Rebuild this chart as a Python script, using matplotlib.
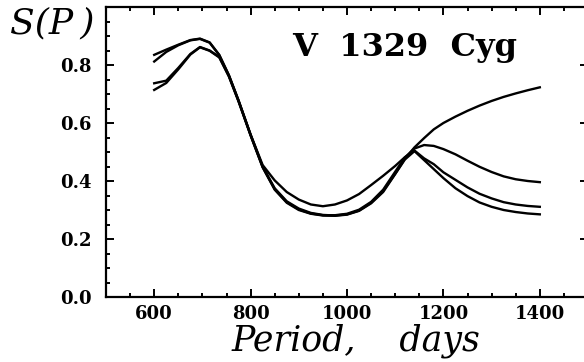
import numpy as np
import matplotlib
matplotlib.use("Agg")
import matplotlib.pyplot as plt
from matplotlib.ticker import MultipleLocator

period = [600, 625, 650, 675, 695, 715, 735, 755, 775, 800, 825, 850, 875, 900,
          925, 950, 975, 1000, 1025, 1050, 1075, 1100, 1120, 1140, 1160, 1180,
          1200, 1225, 1250, 1275, 1300, 1325, 1350, 1375, 1400]

# four S(P) curves
s_rise = [.835, .853, .870, .886, .891, .878, .835, .765, .678, .560, .450, .375,
          .330, .305, .290, .283, .281, .285, .298, .325, .365, .425, .476, .516,
          .548, .578, .600, .622, .642, .660, .676, .690, .702, .713, .723]
s_mid = [.812, .845, .868, .885, .890, .877, .834, .764, .677, .558, .448, .372,
         .327, .302, .288, .282, .282, .287, .301, .328, .370, .432, .481, .512,
         .524, .521, .510, .492, .470, .449, .431, .416, .406, .400, .396]
s_shallow = [.737, .746, .790, .838, .862, .850, .828, .762, .676, .560, .455, .402,
             .362, .336, .319, .313, .319, .333, .355, .386, .418, .452, .482, .505,
             .478, .458, .430, .404, .378, .356, .340, .327, .319, .314, .311]
s_low = [.714, .738, .785, .836, .861, .849, .826, .760, .674, .557, .447, .370,
         .325, .300, .287, .281, .280, .284, .297, .323, .362, .424, .474, .503,
         .472, .441, .410, .375, .348, .326, .311, .300, .293, .288, .285]

xticks = [600, 800, 1000, 1200, 1400]
yticks = [0.0, 0.2, 0.4, 0.6, 0.8]

fig = plt.figure(figsize=(5.84, 3.62), dpi=100)
ax = fig.add_axes([106/584, 65/362, 482/584, 290/362])

for s in (s_rise, s_mid, s_shallow, s_low):
    ax.plot(period, s, color='black', lw=1.7, solid_joinstyle='round')

ax.set_xlim(500, 1500)
ax.set_ylim(0, 1.0)
ax.set_xticks(xticks)
ax.set_yticks(yticks)
ax.xaxis.set_minor_locator(MultipleLocator(50))
ax.yaxis.set_minor_locator(MultipleLocator(0.05))
ax.set_xticklabels([str(v) for v in xticks], family='DejaVu Serif', weight='bold', fontsize=13)
ax.set_yticklabels(['%.1f' % v for v in yticks], family='DejaVu Serif', weight='bold', fontsize=13)
ax.tick_params(which='both', direction='in', top=True, right=True, width=1.4)
ax.tick_params(which='major', length=6)
ax.tick_params(which='minor', length=3)
ax.tick_params(axis='x', pad=6)
ax.tick_params(axis='y', pad=10)
for sp in ax.spines.values():
    sp.set_linewidth(1.6)

ax.text(886, 0.831, 'V  1329  Cyg', family='DejaVu Serif', weight='bold',
        fontsize=23, ha='left', va='baseline')

fig.text(10/584, 1 - 33/362, 'S(P\u2009)', family='DejaVu Serif', style='italic',
         fontsize=26, ha='left', va='baseline')
fig.text(356/584, 1 - 350/362, 'Period,    days', family='DejaVu Serif', style='italic',
         fontsize=25, ha='center', va='baseline')

fig.savefig('out.png', dpi=100)
